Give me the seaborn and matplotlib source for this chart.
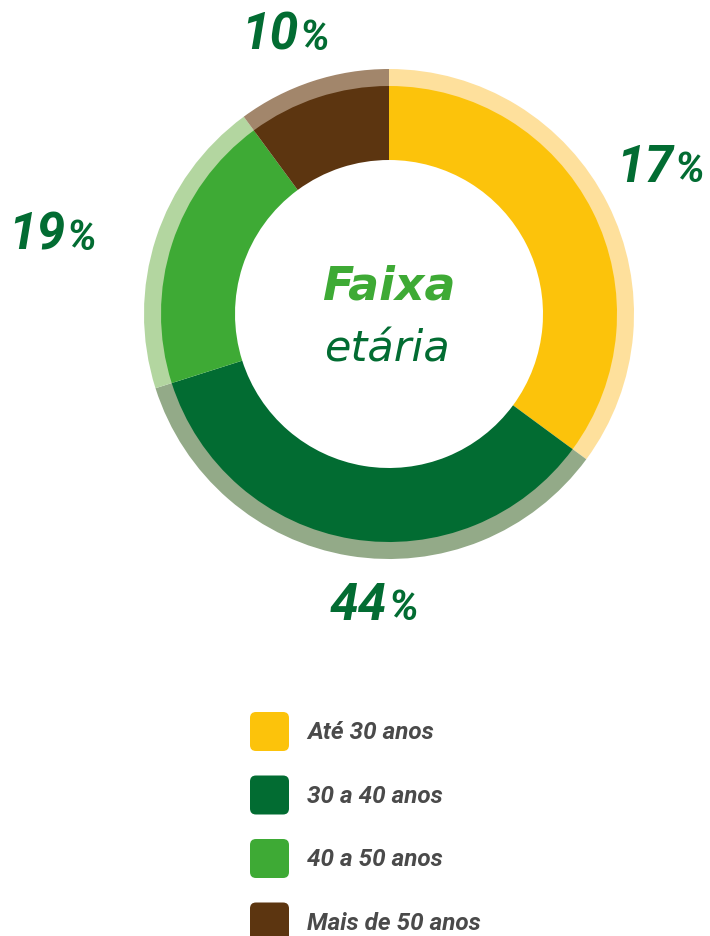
import numpy as np
import matplotlib.pyplot as plt
import seaborn as sns
from matplotlib.patches import FancyBboxPatch

# Data
categories = ['Até 30 anos', '30 a 40 anos', '40 a 50 anos', 'Mais de 50 anos']
# arc shares as drawn in the picture (degrees / 3.6)
arc_shares = [35.1, 35.0, 19.8, 10.1]
# percentages printed next to the ring
pct_labels = ['17', '44', '19', '10']

main_colors = ['#FCC30B', '#026C32', '#3EAA35', '#5C3510']
light_colors = ['#FEE09C', '#93AA88', '#B3D6A0', '#A2866B']

sns.set_theme(style='white')
plt.rcParams['font.family'] = ['Roboto', 'DejaVu Sans']

fig = plt.figure(figsize=(7.10, 9.37), dpi=100)
ax = fig.add_axes([0, 0, 1, 1])

center = (389, 315)

# outer light ring
ax.pie(arc_shares, colors=sns.color_palette(light_colors), radius=245, center=center,
       startangle=-90, counterclock=True,
       wedgeprops=dict(width=20, linewidth=0))
# main ring
ax.pie(arc_shares, colors=sns.color_palette(main_colors), radius=228, center=center,
       startangle=-90, counterclock=True,
       wedgeprops=dict(width=74, linewidth=0))

ax.set_xlim(0, 710)
ax.set_ylim(937, 0)
ax.set_aspect('equal')
ax.axis('off')

# center title
ax.text(389, 300, 'Faixa', ha='center', va='baseline', fontsize=33,
        fontweight='bold', fontstyle='italic', color='#3EAA35', family='DejaVu Sans')
ax.text(387, 362, 'etária', ha='center', va='baseline', fontsize=31,
        fontweight='normal', fontstyle='italic', color='#026C32', family='DejaVu Sans')

# percentage labels: (split x, baseline y)
label_pos = [(673, 182), (387, 620), (65, 250), (298, 50)]
for pct, (sx, by) in zip(pct_labels, label_pos):
    ax.text(sx, by, pct, ha='right', va='baseline', fontsize=37,
            fontweight='bold', fontstyle='italic', color='#026C32')
    ax.text(sx + 1, by, '%', ha='left', va='baseline', fontsize=30,
            fontweight='bold', fontstyle='italic', color='#026C32')

# legend
for i, (cat, col) in enumerate(zip(categories, main_colors)):
    y0 = 713 + i * 63.5
    box = FancyBboxPatch((250, y0), 39, 39, boxstyle='round,pad=0,rounding_size=6',
                         facecolor=col, edgecolor='none')
    ax.add_patch(box)
    ax.text(307, y0 + 20, cat, ha='left', va='center', fontsize=17.5,
            fontweight='bold', fontstyle='italic', color='#4A4A4A')

fig.savefig('out.png', dpi=100)
